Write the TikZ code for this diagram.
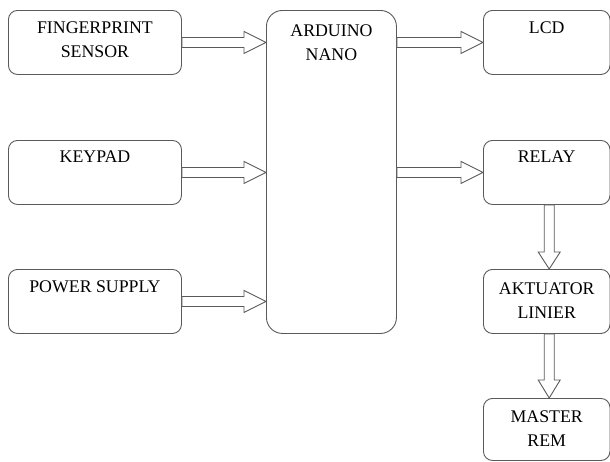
\documentclass[tikz,border=0pt]{standalone}
\usepackage{fontspec}
\setmainfont{Liberation Serif}
\usetikzlibrary{calc}
\definecolor{linegray}{RGB}{90,90,90}

\tikzset{
  blok/.style={draw=linegray, line width=0.9pt, rounded corners=9pt, anchor=north west,
    minimum width=173pt, minimum height=64pt, inner sep=0pt},
  judul/.style={anchor=north, align=center, inner sep=0pt, yshift=-12pt,
    font=\fontsize{17.8}{24}\selectfont},
  fat/.style={draw=linegray, line width=0.9pt, fill=white, line join=miter}
}

% hollow block arrow: [head length]{from}{to}
\newcommand\fatarrow[3][22pt]{%
  \draw[fat] let \p1=($(#3)-(#2)$), \n1={veclen(\x1,\y1)}, \n2={atan2(\y1,\x1)} in
    ($(#2)+(\n2+90:5pt)$) -- ++(\n2:\n1-#1) -- ++(\n2+90:6pt) -- (#3)
    -- ($(#3)+(\n2+180:#1)+(\n2-90:11pt)$) -- ++(\n2+90:6pt)
    -- ($(#2)+(\n2-90:5pt)$) -- cycle;}

\begin{document}
\begin{tikzpicture}[x=1pt,y=1pt]
        \useasboundingbox (0,0) rectangle (610,-461);
        % input blocks
        \node[blok, label={[judul]north:FINGERPRINT\\SENSOR}] (fp) at (8,-10) {};
        \node[blok, label={[judul, yshift=1pt]north:KEYPAD}] (kp) at (8,-140) {};
        \node[blok, label={[judul]north:POWER SUPPLY}] (ps) at (8,-269) {};
        % controller
        \node[blok, rounded corners=16pt, minimum width=130pt, minimum height=323pt,
          label={[judul, yshift=-3pt]north:ARDUINO\\NANO}] (ard) at (266,-10) {};
        % output blocks
        \node[blok, minimum width=126.5pt, label={[judul]north:LCD}] (lcd) at (483,-10) {};
        \node[blok, minimum width=126.5pt, label={[judul, yshift=1pt]north:RELAY}] (rel) at (483,-140) {};
        \node[blok, minimum width=126.5pt, label={[judul, yshift=-2pt]north:AKTUATOR\\LINIER}] (akt) at (483,-269) {};
        \node[blok, minimum width=126.5pt, minimum height=62pt,
          label={[judul, yshift=-1pt]north:MASTER\\REM}] (mas) at (483,-398) {};

        \coordinate (fpin) at (fp.east -| ard.west);
        \coordinate (kpin) at (kp.east -| ard.west);
        \coordinate (psin) at (ps.east -| ard.west);
        \coordinate (lcdout) at (lcd.west -| ard.east);
        \coordinate (relout) at (rel.west -| ard.east);
        \coordinate (reldown) at ([xshift=2.5pt]rel.south);
        \coordinate (aktup) at ([xshift=2.5pt]akt.north);
        \coordinate (aktdown) at ([xshift=2.5pt]akt.south);
        \coordinate (masup) at ([xshift=2.5pt]mas.north);

        \fatarrow{fp.east}{fpin}
        \fatarrow{kp.east}{kpin}
        \fatarrow{ps.east}{psin}
        \fatarrow{lcdout}{lcd.west}
        \fatarrow{relout}{rel.west}
        \fatarrow[17pt]{reldown}{aktup}
        \fatarrow[18pt]{aktdown}{masup}
\end{tikzpicture}
\end{document}
